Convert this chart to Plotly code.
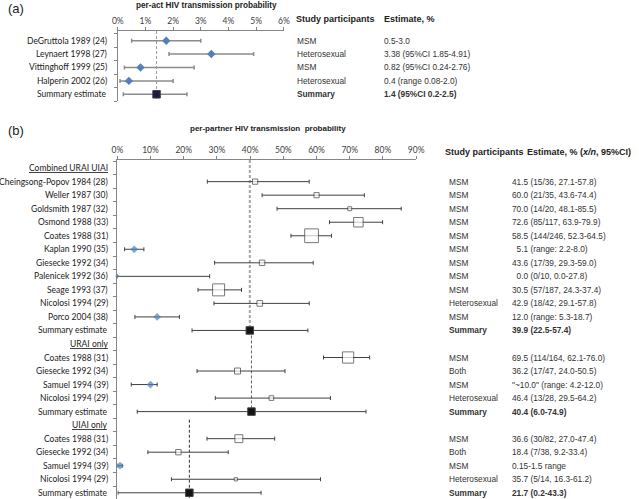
import plotly.graph_objects as go

# ---------------- Panel (a) data ----------------
a_title = "per-act HIV transmission probability"
a_section = "URAI only"
a_labels = ["DeGruttola 1989 (24)", "Leynaert 1998 (27)", "Vittinghoff 1999 (25)",
            "Halperin 2002 (26)", "Summary estimate"]
a_est = [1.75, 3.38, 0.82, 0.4, 1.4]
a_lo = [0.5, 1.85, 0.24, 0.08, 0.2]
a_hi = [3.0, 4.91, 2.76, 2.0, 2.5]
a_kind = ["blue", "blue", "blue", "blue", "summary"]
a_participants = ["MSM", "Heterosexual", "MSM", "Heterosexual", "Summary"]
a_estimates = ["0.5-3.0", "3.38 (95%CI 1.85-4.91)", "0.82 (95%CI 0.24-2.76)",
               "0.4 (range 0.08-2.0)", "1.4 (95%CI 0.2-2.5)"]
a_ticks = [0, 1, 2, 3, 4, 5, 6]
a_col_headers = ["Study participants", "Estimate, %"]

# ---------------- Panel (b) data ----------------
b_title = "per-partner HIV transmission  probability"
b_labels = ["Combined URAI UIAI", "Cheingsong-Popov 1984 (28)", "Weller 1987 (30)",
            "Goldsmith 1987 (32)", "Osmond 1988 (33)", "Coates 1988 (31)", "Kaplan 1990 (35)",
            "Giesecke 1992 (34)", "Palenicek 1992 (36)", "Seage 1993 (37)", "Nicolosi 1994 (29)",
            "Porco 2004 (38)", "Summary estimate",
            "URAI only", "Coates 1988 (31)", "Giesecke 1992 (34)", "Samuel 1994 (39)",
            "Nicolosi 1994 (29)", "Summary estimate",
            "UIAI only", "Coates 1988 (31)", "Giesecke 1992 (34)", "Samuel 1994 (39)",
            "Nicolosi 1994 (29)", "Summary estimate"]
b_kind = ["header", "study", "study", "study", "study", "study", "blue", "study", "blue",
          "study", "study", "blue", "summary",
          "header", "study", "study", "blue", "study", "summary",
          "header", "study", "study", "blue", "study", "summary"]
b_est = [None, 41.5, 60.0, 70.0, 72.6, 58.5, 5.1, 43.6, 0.0, 30.5, 42.9, 12.0, 39.9,
         None, 69.5, 36.2, 10.0, 46.4, 40.4,
         None, 36.6, 18.4, 0.8, 35.7, 21.7]
b_lo = [None, 27.1, 43.6, 48.1, 63.9, 52.3, 2.2, 29.3, 0.0, 24.3, 29.1, 5.3, 22.5,
        None, 62.1, 24.0, 4.2, 29.5, 6.0,
        None, 27.0, 9.2, 0.15, 16.3, 0.2]
b_hi = [None, 57.8, 74.4, 85.5, 79.9, 64.5, 8.0, 59.0, 27.8, 37.4, 57.8, 18.7, 57.4,
        None, 76.0, 50.5, 12.0, 64.2, 74.9,
        None, 47.4, 33.4, 1.5, 61.2, 43.3]
b_n = [None, 36, 35, 20, 117, 246, None, 39, 10, 187, 42, None, None,
       None, 164, 47, None, 28, None,
       None, 82, 38, None, 14, None]
b_participants = ["", "MSM", "MSM", "MSM", "MSM", "MSM", "MSM", "MSM", "MSM", "MSM",
                  "Heterosexual", "MSM", "Summary",
                  "", "MSM", "Both", "MSM", "Heterosexual", "Summary",
                  "", "MSM", "Both", "MSM", "Heterosexual", "Summary"]
b_estimates = ["", "41.5 (15/36, 27.1-57.8)", "60.0 (21/35, 43.6-74.4)",
               "70.0 (14/20, 48.1-85.5)", "72.6 (85/117, 63.9-79.9)",
               "58.5 (144/246, 52.3-64.5)", "\u00a0\u00a05.1 (range: 2.2-8.0)",
               "43.6 (17/39, 29.3-59.0)", "\u00a0\u00a00.0 (0/10, 0.0-27.8)",
               "30.5 (57/187, 24.3-37.4)", "42.9 (18/42, 29.1-57.8)",
               "12.0 (range: 5.3-18.7)", "39.9 (22.5-57.4)",
               "", "69.5 (114/164, 62.1-76.0)", "36.2 (17/47, 24.0-50.5)",
               "\"~10.0\" (range: 4.2-12.0)", "46.4 (13/28, 29.5-64.2)", "40.4 (6.0-74.9)",
               "", "36.6 (30/82, 27.0-47.4)", "18.4 (7/38, 9.2-33.4)", "0.15-1.5 range",
               "35.7 (5/14, 16.3-61.2)", "21.7 (0.2-43.3)"]
b_ticks = [0, 10, 20, 30, 40, 50, 60, 70, 80, 90]
b_col_headers = ["Study participants", "Estimate, % (<i>x/n</i>, 95%CI)"]

# ---------------- helpers ----------------
W, H = 639, 499


def fx(p):
    return p / W


def fy(p):
    return min(1.0, max(0.0, 1 - p / H))


LBL_FONT = "Lato, 'Open Sans', sans-serif"
TXT_FONT = "'Liberation Sans', Arial, sans-serif"
BLUE = "#4f81bd"
AXC = "#868686"


def err(idx, est, lo, hi, color, thick):
    return dict(type="data", symmetric=False,
                array=[hi[i] - est[i] for i in idx],
                arrayminus=[est[i] - lo[i] for i in idx],
                color=color, thickness=thick, width=2)


fig = go.Figure()

# ---------------- Panel (a) traces ----------------
a_rows = [i + 1 for i in range(len(a_labels))]
ia_blue = [i for i, k in enumerate(a_kind) if k == "blue"]
ia_sum = [i for i, k in enumerate(a_kind) if k == "summary"]
fig.add_trace(go.Scatter(
    x=[a_est[i] for i in ia_blue], y=[a_rows[i] for i in ia_blue], mode="markers",
    marker=dict(symbol="diamond", color=BLUE, size=6.5, line=dict(width=0)),
    error_x=err(ia_blue, a_est, a_lo, a_hi, "#8c8c8c", 1.5),
    xaxis="x", yaxis="y", showlegend=False, hoverinfo="skip"))
fig.add_trace(go.Scatter(
    x=[a_est[i] for i in ia_sum], y=[a_rows[i] for i in ia_sum], mode="markers",
    marker=dict(symbol="square", color="#1c1c38", size=7.5, line=dict(width=1, color="#3c3c5c")),
    error_x=err(ia_sum, a_est, a_lo, a_hi, "#8c8c8c", 1.5),
    xaxis="x", yaxis="y", showlegend=False, hoverinfo="skip"))

# ---------------- Panel (b) traces ----------------
b_rows = list(range(len(b_labels)))
ib_study = [i for i, k in enumerate(b_kind) if k == "study"]
ib_blue = [i for i, k in enumerate(b_kind) if k == "blue"]
ib_sum = [i for i, k in enumerate(b_kind) if k == "summary"]
fig.add_trace(go.Scatter(
    x=[b_est[i] for i in ib_study], y=[b_rows[i] for i in ib_study], mode="markers",
    marker=dict(symbol="square", color="white", size=[b_n[i] for i in ib_study],
                sizemode="area", sizeref=2.6, line=dict(width=1, color="#404040")),
    error_x=err(ib_study, b_est, b_lo, b_hi, "#404040", 1),
    xaxis="x2", yaxis="y2", showlegend=False, hoverinfo="skip"))
fig.add_trace(go.Scatter(
    x=[b_est[i] for i in ib_blue], y=[b_rows[i] for i in ib_blue], mode="markers",
    marker=dict(symbol="diamond", color=BLUE,
                size=[3.5 if b_est[i] == 0 else 6 for i in ib_blue], line=dict(width=0)),
    error_x=err(ib_blue, b_est, b_lo, b_hi, "#404040", 1),
    xaxis="x2", yaxis="y2", showlegend=False, hoverinfo="skip", cliponaxis=False))
fig.add_trace(go.Scatter(
    x=[b_est[i] for i in ib_sum], y=[b_rows[i] for i in ib_sum], mode="markers",
    marker=dict(symbol="square", color="#141414", size=7.5, line=dict(width=1, color="#444")),
    error_x=err(ib_sum, b_est, b_lo, b_hi, "#404040", 1),
    xaxis="x2", yaxis="y2", showlegend=False, hoverinfo="skip"))

# ---------------- dashed reference lines ----------------
A_RANGE = [5.5, 0.28]
B_RANGE = [24.46, -0.6]
shapes = []
shapes.append(dict(type="line", xref="x", yref="y", x0=a_est[ia_sum[0]], x1=a_est[ia_sum[0]],
                   y0=A_RANGE[1], y1=A_RANGE[0],
                   line=dict(color="#9a9a9a", width=1, dash="3px,2px"), layer="below"))
headers_b = [i for i, k in enumerate(b_kind) if k == "header"]
line_styles = [("#a6a6a6", 2), ("#666666", 1), ("#333333", 1)]
for s, (h, smi) in enumerate(zip(headers_b, ib_sum)):
    y0 = B_RANGE[1] if s == 0 else (h - 1 if s == 1 else h - 0.4)
    y1 = smi if s < len(ib_sum) - 1 else B_RANGE[0]
    col, wd = line_styles[s]
    shapes.append(dict(type="line", xref="x2", yref="y2", x0=b_est[smi], x1=b_est[smi],
                       y0=y0, y1=y1, line=dict(color=col, width=wd, dash="3px,2px"),
                       layer="below"))

# ---------------- annotations ----------------
ann = []


def text(x, y, s, size, family, xanchor="left", yref="paper", color="#222", bold=False):
    ann.append(dict(x=x, y=y, xref="paper", yref=yref, text=("<b>%s</b>" % s) if bold else s,
                    showarrow=False, xanchor=xanchor, yanchor="middle",
                    font=dict(size=size, family=family, color=color)))


text(0, fy(8), "(a)", 13, TXT_FONT)
text(0, fy(131), "(b)", 13, TXT_FONT)
text(fx(205), fy(5), a_title, 8.2, TXT_FONT, xanchor="center", bold=True)
text(fx(268), fy(129), b_title, 8, TXT_FONT, xanchor="center", bold=True)

# panel a labels
text(fx(105), 0.25, "<u>%s</u>" % a_section, 8.5, LBL_FONT, xanchor="right", yref="y")
for i, lab in enumerate(a_labels):
    text(fx(105), a_rows[i], lab, 8.5, LBL_FONT, xanchor="right", yref="y")
text(fx(295), fy(19), a_col_headers[0], 9, TXT_FONT, bold=True)
text(fx(385), fy(19), a_col_headers[1], 9, TXT_FONT, bold=True)
for i in range(len(a_labels)):
    bold = a_kind[i] == "summary"
    text(fx(296), a_rows[i], a_participants[i], 8.3, TXT_FONT, yref="y", color="#333", bold=bold)
    text(fx(385), a_rows[i], a_estimates[i], 8.3, TXT_FONT, yref="y", color="#333", bold=bold)

# panel b labels
for i, lab in enumerate(b_labels):
    s = "<u>%s</u>" % lab if b_kind[i] == "header" else lab
    text(fx(107), b_rows[i], s, 8.5, LBL_FONT, xanchor="right", yref="y2")
text(fx(447), fy(152), b_col_headers[0], 9, TXT_FONT, bold=True)
text(fx(531), fy(152), b_col_headers[1], 9, TXT_FONT, bold=True)
for i in range(len(b_labels)):
    if b_kind[i] == "header":
        continue
    bold = b_kind[i] == "summary"
    text(fx(452), b_rows[i], b_participants[i], 8.3, TXT_FONT, yref="y2", color="#333", bold=bold)
    text(fx(516), b_rows[i], b_estimates[i], 8.3, TXT_FONT, yref="y2", color="#333", bold=bold)

axis_common = dict(showgrid=False, zeroline=False, showline=True, linecolor=AXC, linewidth=1,
                   ticks="outside", tickcolor=AXC, ticklen=3, tickwidth=1)

fig.update_layout(
    width=W, height=H, margin=dict(l=0, r=0, t=0, b=0),
    paper_bgcolor="white", plot_bgcolor="white",
    xaxis=dict(domain=[fx(114.5), fx(284.5)], range=[0, 6], side="top", anchor="y",
               tickvals=a_ticks, ticktext=["%d%%" % t for t in a_ticks],
               tickfont=dict(family=LBL_FONT, size=8.5, color="#404040"), **axis_common),
    yaxis=dict(domain=[fy(101), fy(31)], range=A_RANGE, anchor="x",
               tickvals=[r + 0.5 for r in range(0, 6)], showticklabels=False, **axis_common),
    xaxis2=dict(domain=[fx(114), fx(420)], range=[0, 90], side="top", anchor="y2",
                tickvals=b_ticks, ticktext=["%d%%" % t for t in b_ticks],
                tickfont=dict(family=LBL_FONT, size=8.5, color="#404040"), **axis_common),
    yaxis2=dict(domain=[0, fy(160)], range=B_RANGE, anchor="x2",
                tickvals=[r - 0.5 for r in range(0, 26)], showticklabels=False, **axis_common),
    shapes=shapes, annotations=ann,
)

fig.write_html("out.html", config={"displayModeBar": False},
               post_script="document.body.style.margin='0px';")
